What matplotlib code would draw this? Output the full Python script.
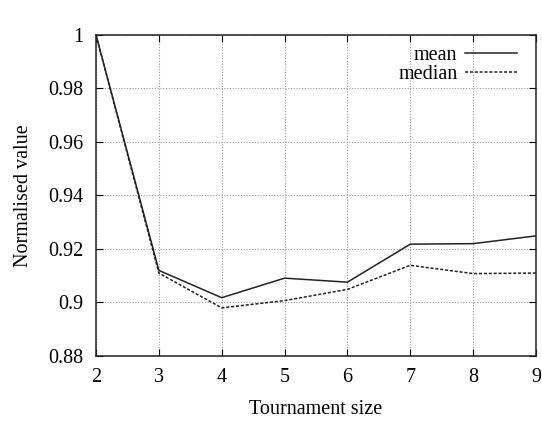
import matplotlib
matplotlib.use("Agg")
import matplotlib.pyplot as plt

sizes = [2, 3, 4, 5, 6, 7, 8, 9]
mean = [1.0, 0.912, 0.9018, 0.9091, 0.9076, 0.9218, 0.922, 0.9249]
median = [1.0, 0.911, 0.898, 0.9007, 0.9049, 0.9139, 0.9108, 0.911]
yticks = [0.88, 0.9, 0.92, 0.94, 0.96, 0.98, 1]
ylabels = ["0.88", "0.9", "0.92", "0.94", "0.96", "0.98", "1"]

plt.rcParams['font.family'] = ['Liberation Serif', 'DejaVu Serif']
plt.rcParams['font.size'] = 14.5

fig = plt.figure(figsize=(5.42, 4.23), dpi=100)
ax = fig.add_axes([0.1771, 0.1584, 0.8118, 0.7589])

ax.plot(sizes, mean, color='#222222', lw=1.1, label='mean')
ax.plot(sizes, median, color='#222222', lw=1.1, ls=(0, (2, 1.2)), label='median')

ax.set_xlim(2, 9)
ax.set_ylim(0.88, 1.0)
ax.set_xticks(sizes)
ax.set_yticks(yticks)
ax.set_yticklabels(ylabels)
ax.grid(True, color='#999999', ls=(0, (1, 1.5)), lw=0.8)
ax.tick_params(axis='x', direction='in', top=True, length=5, pad=9)
ax.tick_params(axis='y', direction='in', right=True, length=5, pad=9)
for s in ax.spines.values():
    s.set_linewidth(1.1)
    s.set_color('#222222')

ax.set_xlabel('Tournament size', labelpad=9)
ax.set_ylabel('Normalised value', labelpad=11)

# key in the top right corner, text before the line sample
ax.legend(loc='upper right', bbox_to_anchor=(0.975, 0.99), frameon=False,
          markerfirst=False, handlelength=2.6, borderaxespad=0.2,
          borderpad=0.2, labelspacing=0.0, handletextpad=0.35)

fig.savefig('out.png', dpi=100)
